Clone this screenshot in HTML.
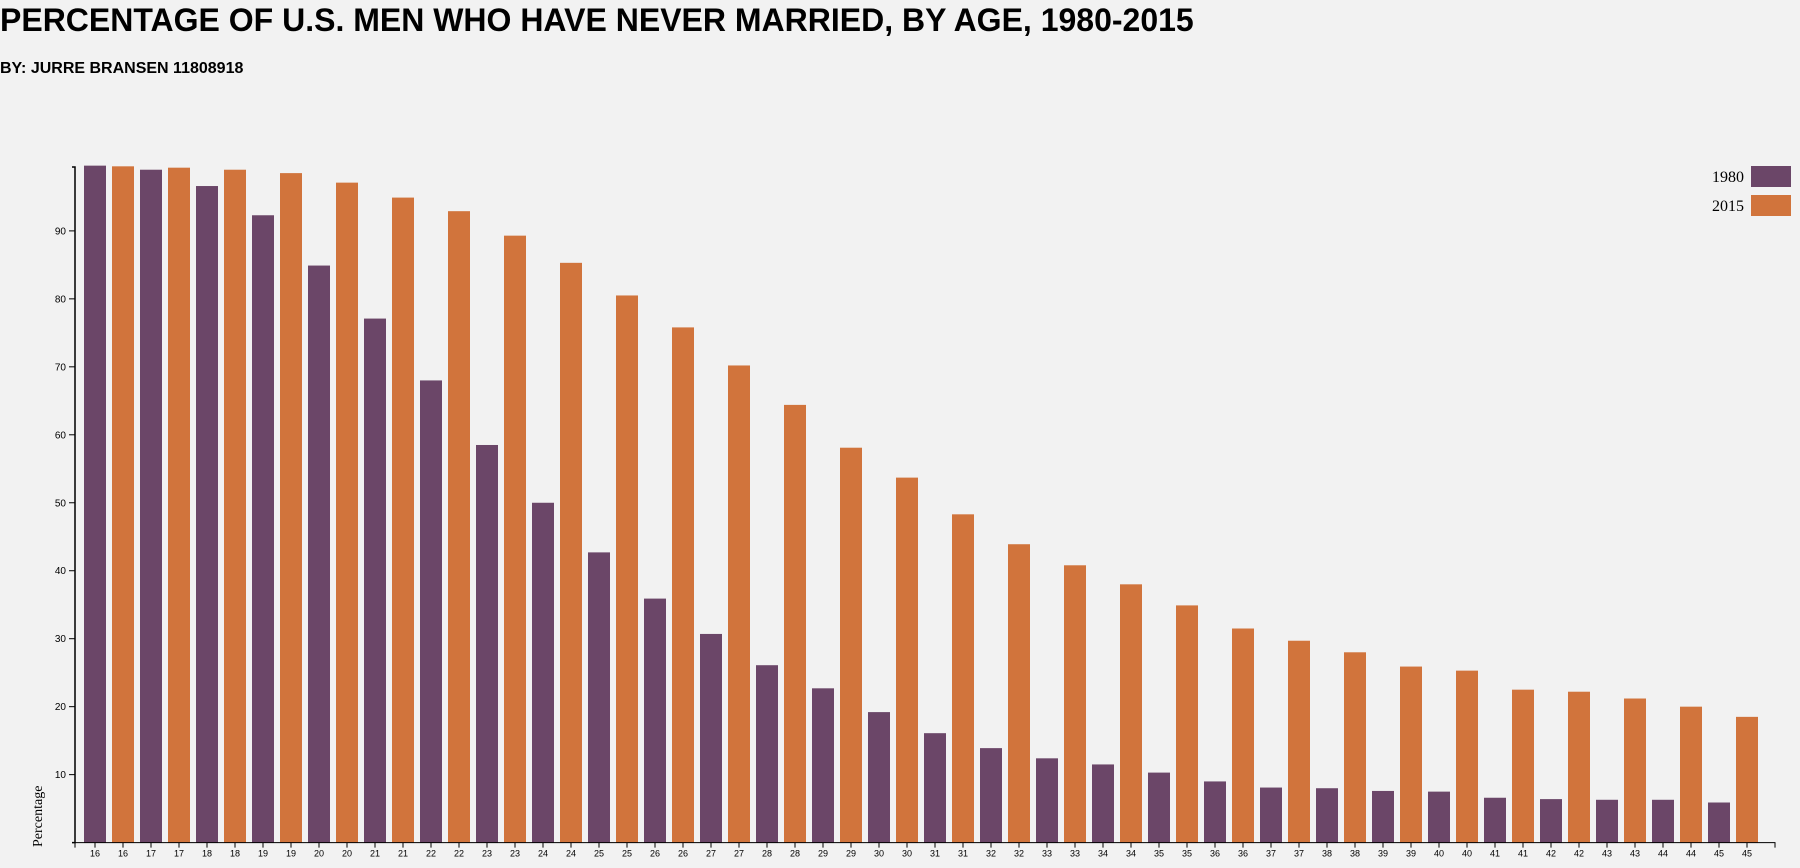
<!DOCTYPE html>
<html><head><meta charset="utf-8"><style>
body{margin:0;background:#f2f2f2;width:1800px;height:868px;overflow:hidden;font-family:"Liberation Sans",Arial,sans-serif}
h1{position:absolute;left:0;top:2px;margin:0;font-size:32px;font-weight:bold;color:#000}
h2{position:absolute;left:0;top:60px;margin:0;font-size:16px;font-weight:bold}
svg{position:absolute;left:0;top:0}
</style></head><body>
<h1>PERCENTAGE OF U.S. MEN WHO HAVE NEVER MARRIED, BY AGE, 1980-2015</h1>
<h2>BY: JURRE BRANSEN 11808918</h2>
<svg id="c" width="1800" height="868"></svg>
<script>
const ages=[16,17,18,19,20,21,22,23,24,25,26,27,28,29,30,31,32,33,34,35,36,37,38,39,40,41,42,43,44,45];
const v1980=[99.6,99,96.6,92.3,84.9,77.1,68,58.5,50,42.7,35.9,30.7,26.1,22.7,19.2,16.1,13.9,12.4,11.5,10.3,9,8.1,8,7.6,7.5,6.6,6.4,6.3,6.3,5.9];
const v2015=[99.5,99.3,99,98.5,97.1,94.9,92.9,89.3,85.3,80.5,75.8,70.2,64.4,58.1,53.7,48.3,43.9,40.8,38,34.9,31.5,29.7,28,25.9,25.3,22.5,22.2,21.2,20,18.5];
const yTicks=[10,20,30,40,50,60,70,80,90];
const years=["1980","2015"];
const colors=["#6b4668","#d1743c"];
const NS="http://www.w3.org/2000/svg",svg=document.getElementById('c');
const x0=78,step=28,bw=22,y0=842.6,ymax=99.4,ytop=167;
const y=v=>y0-(v/ymax)*(y0-ytop);
const xb=i=>x0+6+i*step;
function mk(t,a,p){const e=document.createElementNS(NS,t);for(const k in a)e.setAttribute(k,a[k]);(p||svg).appendChild(e);return e;}
ages.forEach((a,k)=>{
 [v1980[k],v2015[k]].forEach((v,s)=>{
  const i=2*k+s;
  const r=mk('rect',{x:xb(i),y:y(v),width:bw,height:y0-y(v),fill:colors[s]});
  
  
  mk('line',{x1:xb(i)+bw/2,x2:xb(i)+bw/2,y1:y0,y2:y0+5,stroke:'#000'});
  const t=mk('text',{x:xb(i)+bw/2,y:y0+14,'font-size':9,'text-anchor':'middle','font-family':'Liberation Sans,sans-serif'});
  t.textContent=a;
  
  
 });
});
const ax=mk('path',{d:`M72,${ytop}H75V${y0}H72`,fill:'none',stroke:'#000','stroke-width':1.5});


const xa=mk('path',{d:`M75,${y0+5}V${y0}H1775V${y0+5}`,fill:'none',stroke:'#000'});


yTicks.forEach(v=>{
 mk('line',{x1:69,x2:75,y1:y(v),y2:y(v),stroke:'#000'});
 const t=mk('text',{x:66,y:y(v)+3.5,'font-size':10,'text-anchor':'end','font-family':'Liberation Sans,sans-serif'});
 t.textContent=v;
 
 
});
const yl=mk('text',{transform:'translate(42,847) rotate(-90)','font-size':14,'font-family':'Liberation Serif,serif'});
yl.textContent='Percentage';


years.forEach((yr,s)=>{
 const g=mk('g',{});
 
 
 mk('rect',{x:1751,y:166+s*29,width:40,height:21,fill:colors[s]},g);
 const t=mk('text',{x:1744,y:182+s*29,'font-size':16,'text-anchor':'end','font-family':'Liberation Serif,serif'},g);
 t.textContent=yr;
});
</script>
</body></html>
